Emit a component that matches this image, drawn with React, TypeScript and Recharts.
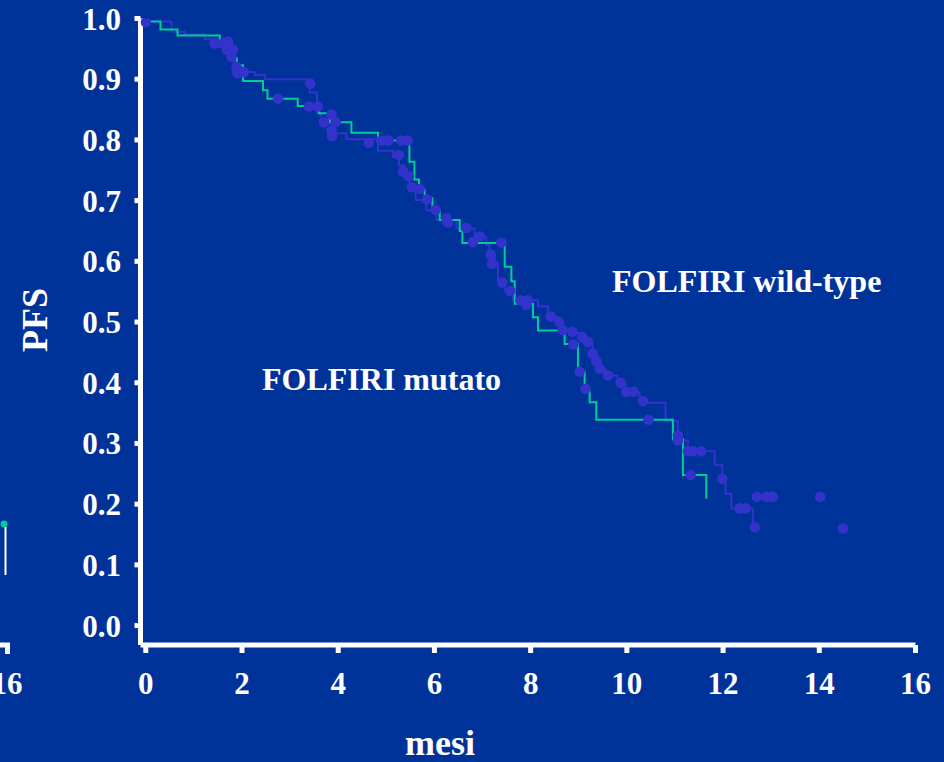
import React from 'react';
import { ComposedChart, Line, Scatter, XAxis, YAxis, Customized } from 'recharts';

const BG = '#003399';
const GREEN = '#00cc99';
const PURPLE = '#3333cc';
const FONT = '"Liberation Serif", "Times New Roman", serif';

const xTicks = [0, 2, 4, 6, 8, 10, 12, 14, 16];
const yTicks = [0, 0.1, 0.2, 0.3, 0.4, 0.5, 0.6, 0.7, 0.8, 0.9, 1.0];

// FOLFIRI mutato (green step curve)
const mutatoTimes = [0, 0.305, 0.659, 1.538, 1.704, 1.829, 1.891, 2.022, 2.437, 2.529, 3.158, 3.601, 3.823, 4.274, 4.827, 5.48, 5.583, 5.679, 5.797, 5.958, 6.109, 6.525, 6.581, 7.46, 7.599, 7.668, 8.048, 8.152, 8.706, 8.983, 9.122, 9.226, 9.365, 10.957, 11.165, 11.651];
const mutatoSurv = [0.995, 0.982, 0.972, 0.963, 0.948, 0.935, 0.923, 0.897, 0.882, 0.868, 0.856, 0.844, 0.829, 0.812, 0.799, 0.764, 0.735, 0.718, 0.704, 0.684, 0.668, 0.65, 0.63, 0.591, 0.567, 0.53, 0.508, 0.486, 0.464, 0.418, 0.387, 0.368, 0.339, 0.307, 0.248, 0.209];

// FOLFIRI wild-type (purple step curve)
const wildTimes = [0, 0.534, 0.81, 1.226, 1.371, 1.642, 1.745, 1.829, 1.885, 2.265, 2.473, 3.408, 3.559, 3.636, 3.886, 4.17, 4.827, 5.139, 5.263, 5.382, 5.486, 5.61, 5.833, 6.04, 6.456, 6.836, 7.079, 7.148, 7.252, 7.321, 7.46, 7.632, 8.152, 8.36, 8.561, 8.665, 8.914, 9.122, 9.226, 9.288, 9.371, 9.455, 9.558, 9.808, 9.974, 10.265, 10.805, 11.061, 11.268, 11.824, 11.983, 12.052, 12.17, 12.619];
const wildSurv = [0.995, 0.978, 0.974, 0.966, 0.958, 0.951, 0.94, 0.925, 0.912, 0.907, 0.9, 0.878, 0.844, 0.828, 0.811, 0.801, 0.782, 0.772, 0.758, 0.742, 0.721, 0.701, 0.684, 0.668, 0.654, 0.64, 0.627, 0.61, 0.597, 0.566, 0.552, 0.536, 0.526, 0.508, 0.5, 0.487, 0.482, 0.473, 0.463, 0.448, 0.435, 0.422, 0.412, 0.399, 0.384, 0.367, 0.337, 0.305, 0.287, 0.265, 0.242, 0.217, 0.193, 0.162];

// censored observations (dots)
const censorTimes = [0, 1.434, 1.606, 1.71, 1.689, 1.814, 1.781, 1.885, 1.905, 2.036, 2.749, 3.418, 3.393, 3.58, 3.859, 3.705, 3.948, 3.859, 3.871, 4.634, 4.898, 5.049, 5.305, 5.444, 5.261, 5.347, 5.465, 5.532, 5.694, 5.845, 6.026, 6.248, 6.281, 6.664, 6.951, 6.801, 7.391, 7.169, 7.196, 7.412, 7.578, 7.786, 7.944, 7.911, 8.416, 8.594, 8.665, 8.867, 9.074, 9.191, 8.887, 9.288, 9.365, 9.44, 9.018, 9.143, 9.606, 9.87, 9.989, 10.14, 10.334, 10.448, 11.061, 11.061, 11.268, 11.373, 11.547, 11.325, 11.983, 12.343, 12.468, 12.661, 12.703, 12.898, 13.035, 14.019, 14.489];
const censorSurv = [0.994, 0.959, 0.959, 0.962, 0.948, 0.949, 0.937, 0.92, 0.91, 0.912, 0.868, 0.893, 0.855, 0.855, 0.842, 0.829, 0.829, 0.816, 0.806, 0.795, 0.799, 0.799, 0.799, 0.799, 0.775, 0.748, 0.74, 0.722, 0.719, 0.702, 0.685, 0.671, 0.664, 0.655, 0.641, 0.632, 0.631, 0.611, 0.596, 0.565, 0.551, 0.536, 0.536, 0.528, 0.509, 0.5, 0.487, 0.484, 0.475, 0.467, 0.463, 0.448, 0.436, 0.423, 0.418, 0.39, 0.412, 0.4, 0.385, 0.385, 0.37, 0.339, 0.313, 0.305, 0.287, 0.287, 0.287, 0.248, 0.242, 0.193, 0.193, 0.162, 0.212, 0.212, 0.212, 0.212, 0.16];

const zip = (ts: number[], ss: number[]) => ts.map((t, i) => ({ t, s: ss[i] }));
const mutatoData = zip(mutatoTimes, mutatoSurv);
const wildData = zip(wildTimes, wildSurv);
const censorData = zip(censorTimes, censorSurv);

const tickStyle = { fill: '#ffffff', fontSize: 31, fontWeight: 700, fontFamily: FONT };

const Annotations = () => (
  <g>
    <text x={612} y={292} fill="#fff" fontSize={32} fontWeight={700} fontFamily={FONT}>FOLFIRI wild-type</text>
    <text x={262} y={390} fill="#fff" fontSize={32} fontWeight={700} fontFamily={FONT}>FOLFIRI mutato</text>
    <text x={440} y={755} fill="#fff" fontSize={36} fontWeight={700} fontFamily={FONT} textAnchor="middle">mesi</text>
    <text x={47} y={320} fill="#fff" fontSize={36} fontWeight={700} fontFamily={FONT} textAnchor="middle" transform="rotate(-90, 47, 320)">PFS</text>
    {/* remnants of neighbouring panel at left edge */}
    <circle cx={4} cy={524} r={3.5} fill={GREEN} />
    <line x1={5.5} y1={527} x2={5.5} y2={575} stroke="#fff" strokeWidth={2} />
    <line x1={0} y1={645} x2={10} y2={645} stroke="#fff" strokeWidth={5} />
    <line x1={7.5} y1={645} x2={7.5} y2={654} stroke="#fff" strokeWidth={5} />
    <text x={7} y={694} fill="#fff" fontSize={31} fontWeight={700} fontFamily={FONT} textAnchor="middle">16</text>
  </g>
);

const Dot = (props: any) => {
  const { cx, cy } = props;
  if (cx == null || cy == null) return null;
  return <circle cx={cx} cy={cy} r={5.3} fill={PURPLE} />;
};

export default function App() {
  return (
    <div style={{ position: 'absolute', left: 0, top: 0, width: 944, height: 762, background: BG }}>
      <ComposedChart width={944} height={762} margin={{ top: 18.5, right: 28.5, bottom: 0, left: 0 }}>
        <XAxis
          dataKey="t"
          type="number"
          domain={[-0.11, 16]}
          ticks={xTicks}
          interval={0}
          allowDataOverflow
          height={117}
          axisLine={{ stroke: '#fff', strokeWidth: 5 }}
          tickLine={{ stroke: '#fff', strokeWidth: 5 }}
          tickSize={8}
          tickMargin={19}
          tick={tickStyle}
        />
        <YAxis
          dataKey="s"
          type="number"
          domain={[-0.032, 1]}
          ticks={yTicks}
          interval={0}
          allowDataOverflow
          width={140.5}
          axisLine={{ stroke: '#fff', strokeWidth: 5 }}
          tickLine={{ stroke: '#fff', strokeWidth: 5 }}
          tickSize={6}
          tickMargin={13.5}
          tick={tickStyle}
          tickFormatter={(v: number) => v.toFixed(1)}
        />
        <Line data={wildData} dataKey="s" type="stepAfter" stroke={PURPLE} strokeWidth={2} dot={false} isAnimationActive={false} />
        <Line data={mutatoData} dataKey="s" type="stepAfter" stroke={GREEN} strokeWidth={2} dot={false} isAnimationActive={false} />
        <Scatter data={censorData} dataKey="s" fill={PURPLE} shape={Dot} isAnimationActive={false} />
        <Customized component={Annotations} />
      </ComposedChart>
    </div>
  );
}
